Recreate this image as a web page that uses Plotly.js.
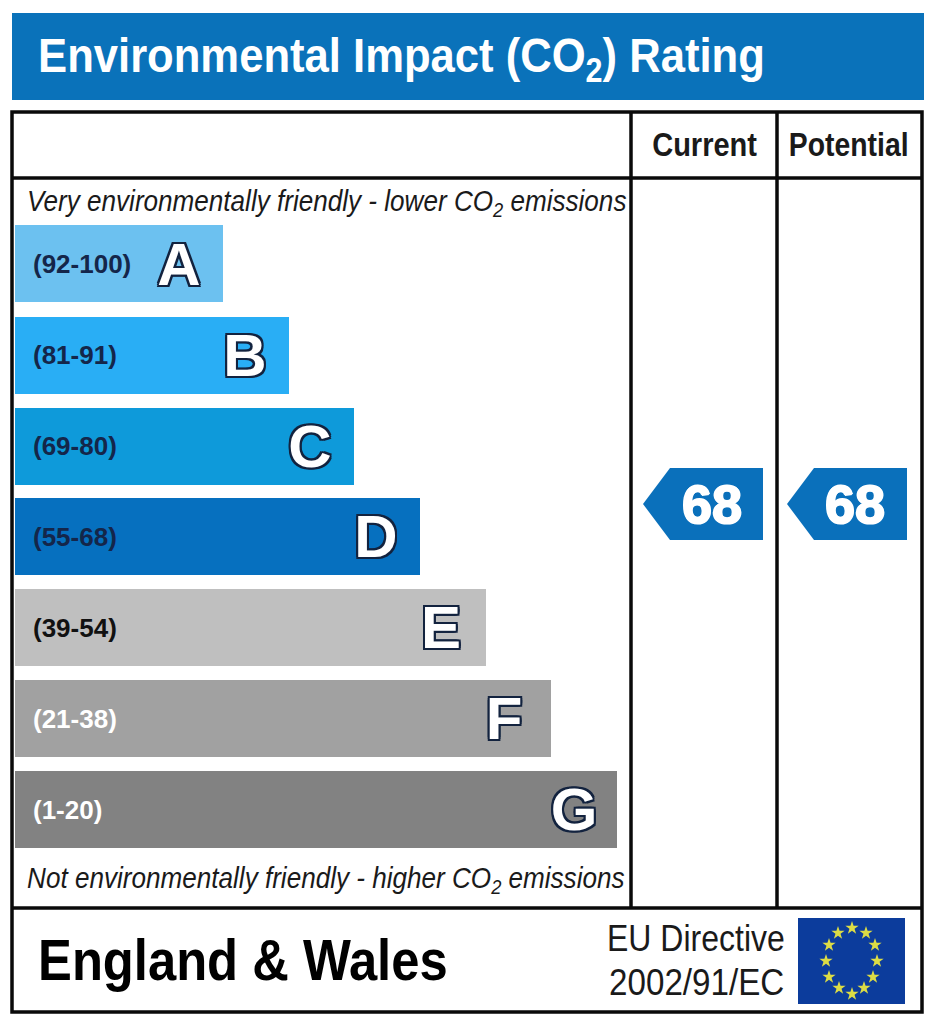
<!DOCTYPE html>
<html><head><meta charset="utf-8">
<script src="https://cdn.plot.ly/plotly-3.0.1.min.js"></script>
<style>html,body{margin:0;padding:0;background:#fff}#c{width:933px;height:1024px}</style>
</head><body><div id="c"></div>
<script>
const bandLetters = ['A','B','C','D','E','F','G'];
const bandRanges = ['(92-100)','(81-91)','(69-80)','(55-68)','(39-54)','(21-38)','(1-20)'];
const barLengths = [208,274,339,405,471,536,602];
const barRows = [263.5,355,446,536.5,627.5,718.5,809.5];
const rangeRows = [266,357,448,539,630,721,812];
const letterRows = [270,361,452,542,633,724,815];
const barColors = ['#6cc1f0','#29aef5','#0e9ada','#0670bf','#bfbfbf','#a1a1a1','#828282'];
const rangeColors = ['#14264a','#14264a','#14264a','#14264a','#111111','#ffffff','#ffffff'];
const letterX = [179,245,310,376,441,504,574];
const ratingColumns = ['Current','Potential'];
const ratingValues = [68,68];
const ratingTextX = [712,855];
const ratingRow = 509;
const starX = [852,866,875,877,873,864,852,839,829,826,829,838];
const starY = [928,933,945,961,977,988,994,988,977,961,945,933];
const SANS = '"Liberation Sans",Arial,sans-serif';
const outline = '#13233f';
const shadow = [[2,0],[-2,0],[0,2],[0,-2],[2,2],[-2,2],[2,-2],[-2,-2]].map(p=>`${p[0]}px ${p[1]}px 0 ${outline}`).join(',');
const thicken = '1px 0 0 #fff,-1px 0 0 #fff,0 1px 0 #fff,0 -1px 0 #fff';

const traces = [
 {type:'bar',orientation:'h',x:barLengths,base:15,y:barRows,width:77,marker:{color:barColors,line:{width:0}},hoverinfo:'skip',showlegend:false},
 {type:'scatter',mode:'text',x:bandRanges.map(()=>33),y:rangeRows,text:bandRanges,textposition:'middle right',
  textfont:{family:SANS,size:26,weight:700,color:rangeColors},hoverinfo:'skip',showlegend:false},
 {type:'scatter',mode:'text',x:letterX,y:letterRows,text:bandLetters,textposition:'middle center',
  textfont:{family:SANS,size:60,weight:700,color:'#ffffff',shadow:shadow},hoverinfo:'skip',showlegend:false},
 {type:'scatter',mode:'text',x:ratingTextX,y:ratingValues.map(()=>ratingRow),text:ratingValues.map(String),textposition:'middle center',
  textfont:{family:SANS,size:54,weight:700,color:'#ffffff',shadow:thicken},hoverinfo:'skip',showlegend:false},
 {type:'scatter',mode:'markers',x:starX,y:starY,marker:{symbol:'star',size:10,color:'#dcdc45',line:{width:0}},hoverinfo:'skip',showlegend:false}
];

const line = (x0,y0,x1,y1)=>({type:'line',xref:'x',yref:'y',x0,y0,x1,y1,line:{color:'#0a0a0a',width:3.5},layer:'above'});
const rect = (x0,y0,x1,y1,c)=>({type:'rect',xref:'x',yref:'y',x0,y0,x1,y1,fillcolor:c,line:{width:0},layer:'below'});
const arrow = (xt,cy)=>({type:'path',xref:'x',yref:'y',layer:'below',fillcolor:'#0a70bb',line:{width:0},
  path:`M${xt},${cy} L${xt+27},${cy-36} L${xt+120},${cy-36} L${xt+120},${cy+36} L${xt+27},${cy+36} Z`});
const shapes = [
 rect(12,13,924,100,'#0a72ba'),
 {type:'rect',xref:'x',yref:'y',x0:12,y0:112,x1:922,y1:1012,line:{color:'#0a0a0a',width:3.5},layer:'above'},
 line(631,112,631,908),line(777,112,777,908),line(12,178,922,178),line(12,908,922,908),
 arrow(643,504),arrow(787,504),
 rect(798,918,905,1004,'#0c3c9c')
];
const ann = (text,x,y,size,color,o={})=>Object.assign({text,x,y,xref:'x',yref:'y',showarrow:false,xanchor:o.anchor||'left',yanchor:'middle',
  font:{family:SANS,size,color,weight:o.w||400,style:o.s||'normal'}});
const annotations = [
 ann('Environmental Impact (CO<sub>2</sub>) Rating',36,58,49,'#ffffff',{w:700}),
 ann('Current',704,144,33,'#1a1a1a',{w:700,anchor:'center'}),
 ann('Potential',848,144,33,'#1a1a1a',{w:700,anchor:'center'}),
 ann('Very environmentally friendly - lower CO<sub>2</sub> emissions',25,203,29,'#1a1a1a',{s:'italic'}),
 ann('Not environmentally friendly - higher CO<sub>2</sub> emissions',25,880,29,'#1a1a1a',{s:'italic'}),
 ann('England &amp; Wales',36,960,57,'#000',{w:700}),
 ann('EU Directive',605,938,37,'#1a1a1a'),
 ann('2002/91/EC',607,982,37,'#1a1a1a')
];
const textSqueeze = [0.89,0.88,0.86,0.90,0.90,0.89,0.865,0.897];
Plotly.newPlot('c',traces,{
 width:933,height:1024,margin:{l:0,r:0,t:0,b:0},paper_bgcolor:'#fff',plot_bgcolor:'#fff',showlegend:false,
 xaxis:{range:[0,933],visible:false,fixedrange:true},
 yaxis:{range:[1024,0],visible:false,fixedrange:true},
 bargap:0,shapes,annotations
},{displayModeBar:false,staticPlot:true}).then(()=>{
 document.querySelectorAll('#c .annotation').forEach((g,i)=>{
  const t=g.querySelector('text'); const b=t.getBBox();
  const cx=annotations[i].xanchor==='center'? b.x+b.width/2 : b.x;
  t.setAttribute('transform',`translate(${cx},0) scale(${textSqueeze[i]},1) translate(${-cx},0)`);
 });
});
</script></body></html>
